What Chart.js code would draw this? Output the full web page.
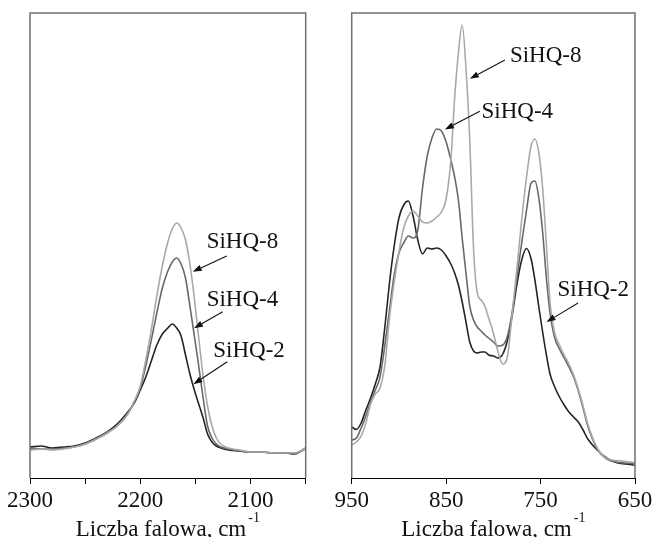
<!DOCTYPE html>
<html>
<head>
<meta charset="utf-8">
<script src="https://cdn.jsdelivr.net/npm/chart.js@4.4.0/dist/chart.umd.min.js"></script>
<style>
  html, body { margin: 0; padding: 0; background: #fff; }
  #wrap { position: relative; width: 657px; height: 537px; }
  #wrap canvas { position: absolute; left: 0; top: 0; }
</style>
</head>
<body>
<div id="wrap">
  <canvas id="siHChart" width="657" height="537"></canvas>
  <canvas id="siOChart" width="657" height="537"></canvas>
</div>
<script>
// Si-H stretching band (left panel), wavenumbers in cm-1
const wnSiH = [2300, 2290, 2280, 2270, 2260, 2250, 2240, 2230, 2220, 2212, 2205, 2200, 2195, 2190, 2185, 2180, 2175, 2171, 2167,
  2163, 2159, 2155, 2151, 2147, 2143, 2139, 2135, 2131, 2127, 2120, 2110, 2100, 2090, 2080, 2070, 2060, 2050];
const siH_8 = [28, 29, 28, 29, 31, 34, 39, 45, 53, 63, 78, 92, 118, 148, 182, 212, 236, 249, 255,
  250, 238, 214, 180, 140, 102, 72, 52, 40, 34, 30, 28, 26, 26, 25, 25, 25, 30];
const siH_4 = [30, 29, 29, 29.5, 31, 34, 39, 45, 53, 63, 77, 90, 112, 138, 165, 190, 207, 216, 220,
  214, 200, 172, 142, 112, 80, 52, 40, 34, 31, 29, 27, 26, 26, 25, 25, 25, 29];
const siH_2 = [31, 32, 30, 31, 32, 35, 40, 46, 55, 65, 76, 88, 101, 117, 133, 144, 150, 154, 150,
  142, 123, 104, 88, 74, 60, 44, 36, 32, 30, 28, 27, 26, 26, 25, 25, 24, 30];
const ticksSiH = [2300, 2250, 2200, 2150, 2100, 2050];
const labelsSiH = [2300, 2200, 2100];

// Si-O / Si-C region (right panel)
const wnSiO = [950, 945, 940, 935, 930, 925, 920, 915, 910, 905, 900,
  895, 890, 885, 880, 875, 870, 865, 860, 855, 850,
  845, 841, 837, 833, 829, 825, 821, 817, 813, 809,
  805, 800, 795, 790, 785, 780, 775, 770, 765, 760,
  756, 752, 748, 744, 740, 735, 730, 725, 720, 715,
  710, 705, 700, 690, 680, 670, 660, 650];
const siO_8 = [33, 36, 42, 55, 74, 84, 90, 112, 160, 196, 226,
  250, 262, 267, 262, 256, 255, 257, 261, 266, 279,
  318, 380, 425, 453, 410, 338, 230, 185, 178, 172,
  160, 145, 126, 114, 122, 165, 210, 258, 300, 332,
  339, 326, 292, 236, 176, 145, 133, 123, 114, 103,
  89, 72, 54, 30, 19.5, 17.5, 16.5, 15.3];
const siO_4 = [38, 40, 50, 62, 76, 88, 101, 132, 168, 203, 225,
  235, 242, 240, 248, 290, 322, 340, 349, 347, 336,
  318, 301, 278, 240, 205, 172, 158, 151, 147, 143,
  140, 136, 132, 133, 142, 166, 201, 235, 267, 295,
  297, 281, 248, 202, 165, 140, 129, 120, 111, 101,
  87, 70, 52, 29, 19, 16, 15, 14.5];
const siO_2 = [51, 48.5, 55, 68, 80, 94, 111, 150, 195, 232, 260,
  273, 277, 262, 238, 224, 230, 229, 230, 228, 222,
  214, 205, 193, 176, 156, 136, 127, 125, 126, 126,
  123, 122, 120, 124, 138, 163, 194, 218, 229.5, 219,
  198, 172, 147, 124, 104, 91, 81, 73, 66, 61,
  56, 48, 39, 28, 20, 15.5, 14, 13];
const ticksSiO = [950, 850, 750, 650];
const labelsSiO = [950, 850, 750, 650];

const sampleNames = ['SiHQ-8', 'SiHQ-4', 'SiHQ-2'];
const lineColors = ['#a9a9a9', '#686868', '#242424'];

// label text anchor (left, baseline) and arrow from/to, all in data units
const calloutsSiH = [
  { text: 'SiHQ-8', at: [2139.8, 229.6], from: [2121.6, 222], to: [2152.5, 206.3] },
  { text: 'SiHQ-4', at: [2139.8, 172.5], from: [2125.3, 166.3], to: [2151.3, 149.7] },
  { text: 'SiHQ-2', at: [2133.8, 120.8], from: [2121.1, 116.3], to: [2151.9, 93.7] }
];
const calloutsSiO = [
  { text: 'SiHQ-8', at: [782.5, 416.3], from: [787.8, 418.1], to: [824.9, 399.2] },
  { text: 'SiHQ-4', at: [812.5, 359.8], from: [814.3, 366.7], to: [851.3, 348.5] },
  { text: 'SiHQ-2', at: [732.1, 181.7], from: [710.3, 175], to: [743.7, 156] }
];

const SERIF = '"Liberation Serif", "Times New Roman", serif';
Chart.defaults.font.family = SERIF;

// gray frame on three sides plus the axis title with a superscript
const framePlugin = {
  id: 'frame',
  afterDraw(chart) {
    const { ctx, chartArea: a } = chart;
    ctx.save();
    ctx.strokeStyle = '#707070';
    ctx.lineWidth = 1.5;
    ctx.beginPath();
    ctx.moveTo(a.left, a.bottom);
    ctx.lineTo(a.left, a.top);
    ctx.lineTo(a.right, a.top);
    ctx.lineTo(a.right, a.bottom);
    ctx.stroke();

    const main = 'Liczba falowa, cm';
    const sup = '-1';
    ctx.fillStyle = '#111';
    ctx.textBaseline = 'alphabetic';
    ctx.textAlign = 'left';
    ctx.font = '23px ' + SERIF;
    const w1 = ctx.measureText(main).width;
    ctx.font = '14px ' + SERIF;
    const w2 = ctx.measureText(sup).width;
    const x0 = (a.left + a.right) / 2 - (w1 + w2 + 2) / 2;
    ctx.font = '23px ' + SERIF;
    ctx.fillText(main, x0, 536);
    ctx.font = '14px ' + SERIF;
    ctx.fillText(sup, x0 + w1 + 2, 522);
    ctx.restore();
  }
};

// sample labels with arrows pointing at the curves
const calloutPlugin = {
  id: 'callouts',
  afterDatasetsDraw(chart, args, opts) {
    const { ctx, scales: { x, y } } = chart;
    ctx.save();
    ctx.font = '23px ' + SERIF;
    ctx.fillStyle = '#111';
    ctx.strokeStyle = '#111';
    ctx.lineWidth = 1.1;
    ctx.textBaseline = 'alphabetic';
    ctx.textAlign = 'left';
    (opts.items || []).forEach(c => {
      ctx.fillText(c.text, x.getPixelForValue(c.at[0]), y.getPixelForValue(c.at[1]));
      const x0 = x.getPixelForValue(c.from[0]), y0 = y.getPixelForValue(c.from[1]);
      const x1 = x.getPixelForValue(c.to[0]), y1 = y.getPixelForValue(c.to[1]);
      const ang = Math.atan2(y1 - y0, x1 - x0);
      const len = 9, half = 3.2;
      const bx = x1 - len * Math.cos(ang), by = y1 - len * Math.sin(ang);
      ctx.beginPath();
      ctx.moveTo(x0, y0);
      ctx.lineTo(bx, by);
      ctx.stroke();
      ctx.beginPath();
      ctx.moveTo(x1, y1);
      ctx.lineTo(bx + half * Math.sin(ang), by - half * Math.cos(ang));
      ctx.lineTo(bx - half * Math.sin(ang), by + half * Math.cos(ang));
      ctx.closePath();
      ctx.fill();
    });
    ctx.restore();
  }
};

function makeSpectrum(canvasId, wn, series, range, ticks, labels, callouts, padding) {
  const datasets = series.map((vals, i) => ({
    label: sampleNames[i],
    data: wn.map((w, j) => ({ x: w, y: vals[j] })),
    borderColor: lineColors[i],
    borderWidth: 1.6,
    pointRadius: 0,
    fill: false,
    cubicInterpolationMode: 'monotone'
  }));

  return new Chart(document.getElementById(canvasId), {
    type: 'line',
    data: { datasets },
    options: {
      responsive: false,
      animation: false,
      events: [],
      layout: { padding },
      plugins: {
        legend: { display: false },
        tooltip: { enabled: false },
        callouts: { items: callouts }
      },
      scales: {
        x: {
          type: 'linear',
          reverse: true,
          min: range[0],
          max: range[1],
          afterBuildTicks: s => { s.ticks = ticks.map(v => ({ value: v })); },
          afterFit: s => { s.height = 59; },
          border: { display: true, color: '#000', width: 1 },
          grid: { display: true, drawOnChartArea: false, drawTicks: true, tickLength: 6, color: '#000', lineWidth: 1 },
          ticks: {
            autoSkip: false,
            maxRotation: 0,
            padding: 3,
            color: '#111',
            font: { family: SERIF, size: 23 },
            callback: v => (labels.includes(v) ? String(v) : '')
          }
        },
        y: { display: false, min: 0, max: 465 }
      }
    },
    plugins: [framePlugin, calloutPlugin]
  });
}

makeSpectrum('siHChart', wnSiH, [siH_8, siH_4, siH_2], [2050, 2300], ticksSiH, labelsSiH, calloutsSiH,
  { left: 30, top: 13, right: 351.3, bottom: 0 });
makeSpectrum('siOChart', wnSiO, [siO_8, siO_4, siO_2], [650, 950], ticksSiO, labelsSiO, calloutsSiO,
  { left: 351.7, top: 13, right: 22, bottom: 0 });
</script>
</body>
</html>
